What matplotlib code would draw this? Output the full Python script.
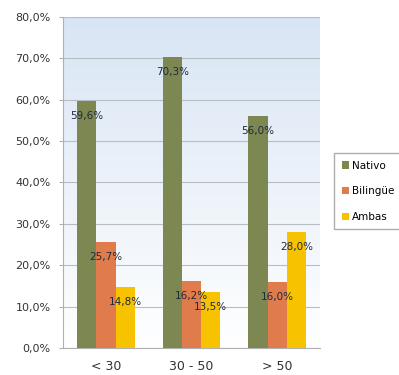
import matplotlib.pyplot as plt
import numpy as np
from matplotlib.colors import LinearSegmentedColormap

categorias = ['< 30', '30 - 50', '> 50']
nativo = [59.6, 70.3, 56.0]
bilingue = [25.7, 16.2, 16.0]
ambas = [14.8, 13.5, 28.0]
series = ['Nativo', 'Bilingüe', 'Ambas']
colores = ['#7d8752', '#e07b4c', '#f7c200']

fig = plt.figure(figsize=(3.99, 3.75), dpi=100)
ax = fig.add_axes([0.158, 0.072, 0.644, 0.883])

# fondo degradado
grad = np.linspace(0, 1, 256).reshape(-1, 1)
cmap = LinearSegmentedColormap.from_list('fondo', ['#ffffff', '#d8e5f4'])
ax.imshow(grad, aspect='auto', cmap=cmap, origin='lower',
          extent=[-0.5, 2.5, 0, 80], zorder=0)

x = np.arange(len(categorias))
w = 0.225
for i, (vals, nombre, c) in enumerate(zip([nativo, bilingue, ambas], series, colores)):
    pos = x + (i - 1) * w
    ax.bar(pos, vals, w, color=c, label=nombre, zorder=3)
    for p, v in zip(pos, vals):
        ax.text(p, v - 3.6, f'{v:.1f}%'.replace('.', ','), ha='center', va='center',
                fontsize=7.5, color='#1f2a3a', zorder=4)

ax.set_xlim(-0.5, 2.5)
ax.set_ylim(0, 80)
ax.set_yticks(np.arange(0, 81, 10))
ax.set_yticklabels([f'{t:.1f}%'.replace('.', ',') for t in np.arange(0, 81, 10)],
                   fontsize=8, color='#333333')
ax.set_xticks(x)
ax.set_xticklabels(categorias, fontsize=9, color='#333333')
ax.yaxis.grid(True, color='#b8bcc4', linewidth=0.8, zorder=1)
ax.set_axisbelow(True)
for s in ['top', 'right']:
    ax.spines[s].set_visible(False)
ax.spines['left'].set_color('#b0b0b0')
ax.spines['bottom'].set_color('#b0b0b0')
ax.tick_params(axis='x', length=0, pad=9)
ax.tick_params(axis='y', length=3, color='#b0b0b0', pad=6)

fig.legend(loc='center left', bbox_to_anchor=(0.825, 0.49), fontsize=7.5,
           frameon=True, edgecolor='#999999', fancybox=False,
           handlelength=0.7, handleheight=0.7, handletextpad=0.3,
           labelspacing=1.5, borderpad=0.7)

fig.savefig('out.png', dpi=100)
